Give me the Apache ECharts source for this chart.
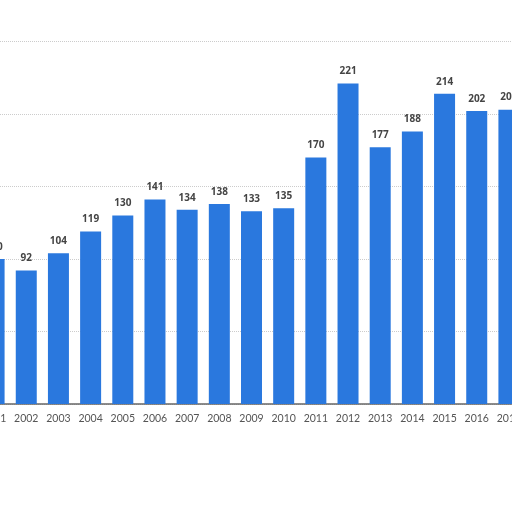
<!DOCTYPE html>
<html>
<head>
<meta charset="utf-8">
<script src="https://cdn.jsdelivr.net/npm/echarts@6/dist/echarts.min.js"></script>
<style>
  html, body { margin: 0; padding: 0; background: #fff; overflow: hidden; }
  #main { width: 547px; height: 512px; margin-left: -22px; }
</style>
</head>
<body>
<div id="main"></div>
<script>
const years = ['2001', '2002', '2003', '2004', '2005', '2006', '2007', '2008', '2009',
  '2010', '2011', '2012', '2013', '2014', '2015', '2016', '2017'];
const values = [100, 92, 104, 119, 130, 141, 134, 138, 133, 135, 170, 221, 177, 188, 214, 202, 203];

// chart is a bit wider than the window: the outer bars are cut off like in the source
const chart = echarts.init(document.getElementById('main'));
chart.setOption({
  animation: false,
  grid: { left: 0, right: 0, top: 41.5, bottom: 108, containLabel: false },
  xAxis: {
    type: 'category',
    data: years,
    axisTick: { show: false },
    axisLine: { lineStyle: { color: '#666', width: 1.5 } },
    axisLabel: { interval: 0, color: '#555', fontSize: 10.5, fontFamily: 'Lato', margin: 9 }
  },
  yAxis: {
    type: 'value',
    min: 0,
    max: 250,
    interval: 50,
    axisLabel: { show: false },
    axisLine: { show: false },
    axisTick: { show: false },
    splitLine: { lineStyle: { color: '#ccc', type: 'dotted' } }
  },
  series: [{
    type: 'bar',
    data: values,
    barWidth: 21,
    itemStyle: { color: '#2a78de' },
    label: {
      show: true,
      position: 'top',
      distance: 7,
      color: '#444',
      fontWeight: 'bold',
      fontSize: 10,
      fontFamily: 'Open Sans'
    }
  }]
});
</script>
</body>
</html>
